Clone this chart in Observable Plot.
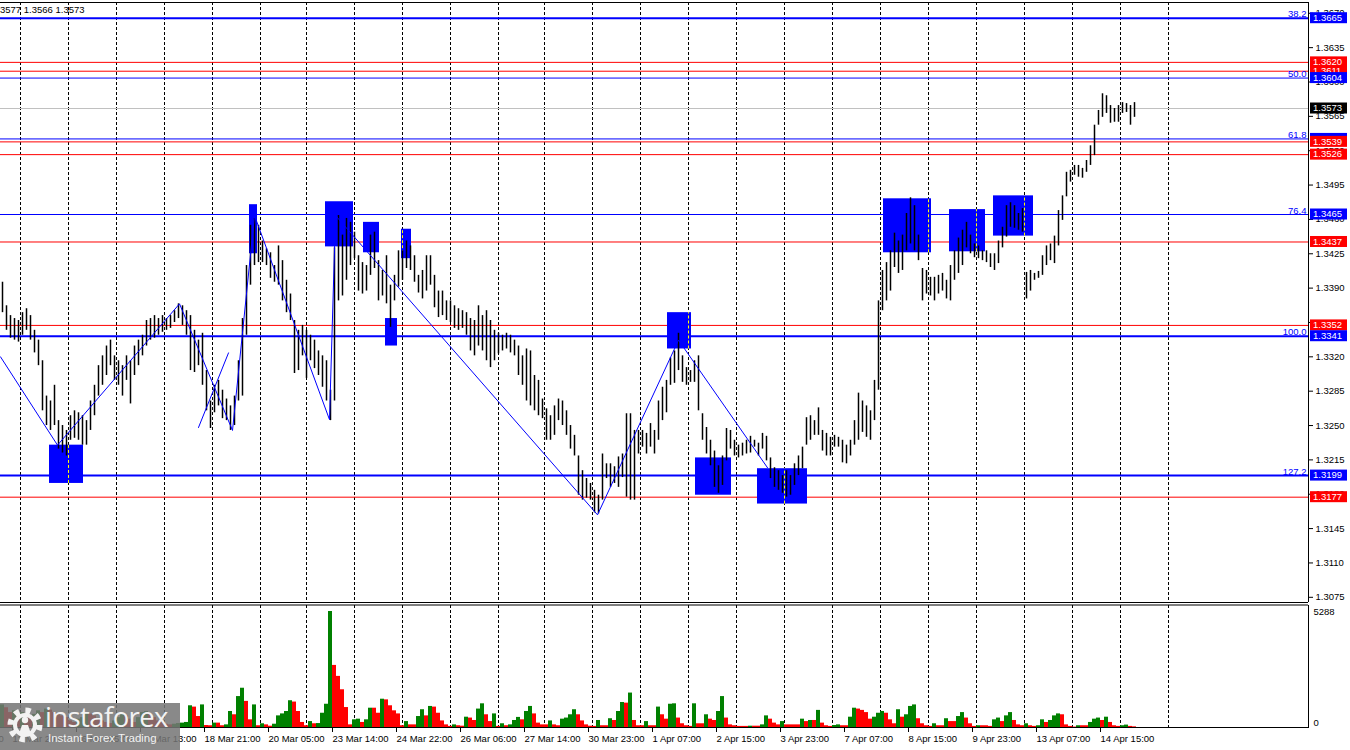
<!DOCTYPE html>
<html><head><meta charset="utf-8">
<script src="https://cdn.jsdelivr.net/npm/d3@7"></script>
<script src="https://cdn.jsdelivr.net/npm/@observablehq/plot@0.6"></script>
<style>
html,body{margin:0;padding:0;background:#fff;width:1350px;height:750px;overflow:hidden}
#wrap{position:relative;width:1350px;height:750px;font-family:"Liberation Sans",Arial,sans-serif}
#charts svg{display:block}
#hdr{position:absolute;left:0;top:4px;font-size:9.5px;line-height:12px;color:#000;z-index:3;white-space:nowrap}
#logo{position:absolute;left:0;top:703px;width:180px;height:47px;background:rgba(118,118,118,0.86);z-index:3;overflow:hidden}
#logo .big{position:absolute;left:45px;top:-5px;font-family:"Open Sans",sans-serif;font-size:27.5px;letter-spacing:-0.6px;color:#f2f2f2}
#logo .small{position:absolute;left:48px;top:29px;font-family:"Liberation Sans",sans-serif;font-size:11.5px;color:#f2f2f2}
#logo svg{position:absolute;left:4px;top:1px}
</style></head>
<body><div id="wrap"><div id="charts"></div>
<div id="hdr"></div>
<div id="logo"><svg width="42" height="42" viewBox="0 0 42 42">
<circle cx="21" cy="21" r="14" fill="none" stroke="#f2f2f2" stroke-width="7" stroke-dasharray="5 5.99"/>
<circle cx="21" cy="21" r="10" fill="none" stroke="#f2f2f2" stroke-width="4"/>
<circle cx="21" cy="16" r="3.2" fill="#f2f2f2"/>
<path d="M15 30 L18 21 L24 21 L27 30 Z" fill="#f2f2f2"/>
</svg><div class="big">instaforex</div><div class="small">Instant Forex Trading</div></div>
</div>
<script>
// ---------- DATA ----------
const headerText = "3577 1.3566 1.3573";

// 2-hour bars (high / low), left to right
const highs = [
1.3396,1.3372,1.3362,1.3359,1.3357,1.3365,1.3369,1.3362,1.3347,1.3337,
1.3316,1.3280,1.3275,1.3291,1.3255,1.3250,1.3245,1.3260,1.3265,1.3263,1.3260,
1.3255,1.3275,1.3291,1.3311,1.3321,1.3331,1.3337,1.3321,1.3316,1.3311,1.3321,1.3316,1.3331,1.3337,1.3342,1.3357,1.3359,1.3362,1.3359,1.3362,1.3359,1.3362,1.3367,1.3374,1.3372,
1.3367,1.3362,1.3347,1.3337,1.3344,1.3306,1.3275,1.3291,1.3296,1.3286,1.3277,1.3270,1.3280,1.3316,1.3359,1.3413,1.3454,1.3461,1.3454,1.3438,1.3430,1.3426,1.3413,1.3433,1.3418,1.3398,
1.3384,1.3357,1.3347,1.3352,1.3347,1.3342,1.3337,1.3326,1.3321,1.3316,1.3286,
1.3431,1.3464,1.3444,1.3461,1.3457,1.3447,
1.3423,1.3416,1.3413,1.3444,1.3447,1.3418,1.3408,1.3423,1.3393,1.3403,1.3428,1.3428,1.3438,1.3433,1.3423,1.3403,1.3408,1.3423,1.3423,1.3403,1.3387,1.3387,1.3377,1.3377,
1.3372,1.3369,1.3367,1.3365,1.3359,1.3357,1.3372,1.3362,1.3367,1.3357,1.3347,1.3344,1.3342,1.3344,1.3342,1.3337,1.3331,1.3321,1.3328,1.3326,1.3301,1.3296,
1.3277,1.3267,1.3260,1.3270,1.3277,1.3275,1.3265,1.3250,1.3240,1.3219,1.3204,1.3196,1.3191,1.3184,1.3179,
1.3221,1.3211,1.3211,1.3208,1.3218,1.3221,1.3262,1.3262,1.3245,1.3245,1.3245,1.3242,1.3252,1.3245,1.3275,1.3289,1.3296,1.3319,1.3326,1.3344,
1.3321,1.3309,1.3306,1.3316,1.3321,1.3262,1.3248,1.3235,1.3224,1.3209,1.3219,1.3247,1.3245,1.3235,1.3230,1.3232,1.3235,1.3239,1.3235,1.3232,1.3242,1.3239,
1.3217,1.3207,1.3204,1.3199,1.3204,1.3199,1.3211,1.3219,1.3228,1.3258,1.3260,1.3255,1.3268,1.3245,1.3242,1.3238,1.3240,1.3238,1.3235,1.3230,1.3235,1.3255,1.3283,1.3275,1.3270,1.3265,1.3296,1.3377,1.3408,1.3416,1.3428,
1.3446,1.3438,1.3444,1.3466,1.3482,1.3474,1.3444,1.3410,1.3408,1.3401,1.3401,1.3403,1.3405,1.3398,1.3413,1.3428,1.3441,1.3449,1.3457,1.3444,1.3435,1.3433,1.3428,1.3428,1.3425,1.3425,1.3438,1.3452,1.3474,1.3477,1.3474,1.3466,1.3471,1.3406,1.3408,1.3405,1.3407,1.3423,1.3433,1.3435,1.3443,1.3469,1.3484,1.3508,1.3510,1.3515,1.3515,1.3512,1.3520,1.3535,1.3556,1.3571,1.3588,1.3586,1.3576,1.3573,1.3576,1.3579,1.3578,1.3576,1.3579
];
const lows = [
1.3365,1.3347,1.3339,1.3337,1.3335,1.3342,1.3347,1.3337,1.3324,1.3311,
1.3265,1.3250,1.3245,1.3250,1.3226,1.3222,1.3219,1.3235,1.3237,1.3235,1.3230,
1.3230,1.3245,1.3260,1.3280,1.3291,1.3301,1.3311,1.3296,1.3291,1.3280,1.3296,1.3272,1.3301,1.3311,1.3321,1.3331,1.3337,1.3339,1.3342,1.3345,1.3347,1.3349,1.3355,1.3359,1.3352,
1.3342,1.3306,1.3304,1.3311,1.3291,1.3265,1.3247,1.3263,1.3270,1.3257,1.3255,1.3245,1.3250,1.3275,1.3280,1.3342,1.3393,1.3413,1.3416,1.3416,1.3413,1.3400,1.3396,1.3393,1.3377,1.3365,
1.3357,1.3303,1.3306,1.3321,1.3298,1.3316,1.3308,1.3301,1.3289,1.3275,1.3255,
1.3275,1.3377,1.3382,1.3398,1.3413,1.3420,
1.3387,1.3384,1.3387,1.3403,1.3410,1.3377,1.3382,1.3374,1.3350,1.3377,1.3391,1.3398,1.3410,1.3408,1.3396,1.3385,1.3379,1.3387,1.3393,1.3370,1.3360,1.3362,1.3357,1.3355,
1.3349,1.3347,1.3349,1.3342,1.3326,1.3321,1.3331,1.3326,1.3316,1.3309,1.3316,1.3323,1.3326,1.3328,1.3324,1.3321,1.3301,1.3291,1.3275,1.3270,1.3265,1.3260,
1.3257,1.3235,1.3235,1.3240,1.3255,1.3250,1.3240,1.3226,1.3219,1.3179,1.3174,1.3176,1.3174,1.3161,1.3160,
1.3174,1.3196,1.3187,1.3191,1.3187,1.3197,1.3177,1.3174,1.3174,1.3221,1.3228,1.3221,1.3228,1.3221,1.3235,1.3255,1.3263,1.3291,1.3293,1.3306,
1.3294,1.3291,1.3294,1.3294,1.3265,1.3235,1.3221,1.3209,1.3187,1.3181,1.3189,1.3214,1.3226,1.3219,1.3217,1.3219,1.3221,1.3222,1.3228,1.3219,1.3226,1.3214,
1.3196,1.3187,1.3184,1.3181,1.3177,1.3179,1.3189,1.3199,1.3206,1.3230,1.3235,1.3240,1.3240,1.3224,1.3219,1.3219,1.3228,1.3228,1.3212,1.3211,1.3219,1.3230,1.3235,1.3243,1.3238,1.3235,1.3255,1.3286,1.3367,1.3377,1.3387,
1.3411,1.3405,1.3408,1.3428,1.3435,1.3428,1.3418,1.3377,1.3384,1.3382,1.3377,1.3384,1.3387,1.3379,1.3377,1.3398,1.3405,1.3413,1.3431,1.3425,1.3421,1.3420,1.3418,1.3416,1.3411,1.3408,1.3415,1.3431,1.3442,1.3452,1.3451,1.3449,1.3447,1.3379,1.3387,1.3398,1.3400,1.3403,1.3413,1.3418,1.3415,1.3433,1.3459,1.3483,1.3498,1.3505,1.3503,1.3502,1.3508,1.3515,1.3525,1.3556,1.3564,1.3568,1.3558,1.3559,1.3559,1.3568,1.3569,1.3556,1.3564
];
const volumes = [
1030,900,680,760,610,680,530,450,600,760,680,840,790,680,610,
530,450,300,230,380,450,680,610,530,380,300,230,180,300,450,610,530,380,230,450,680,730,610,450,300,230,150,120,150,180,
200,230,990,930,500,1030,90,80,200,200,80,120,730,580,1410,1790,1190,350,1030,80,170,120,60,150,530,620,730,1220,1160,730,230,80,270,170,180,650,1060,5288,2830,2330,1720,910,120,350,380,230,350,880,880,650,1290,1260,990,760,620,80,270,120,120,500,810,530,960,930,650,300,120,50,
120,80,60,470,430,320,840,1080,580,270,620,50,170,80,120,320,460,350,730,960,620,200,120,120,300,120,80,380,430,580,810,580,300,120,60,50,320,80,80,400,320,730,1140,1110,1570,320,80,80,270,80,80,930,580,380,1060,1080,430,170,80,50,1080,170,170,580,380,320,730,1410,430,120,80,50,50,50,60,60,60,120,530,380,200,120,270,120,120,120,120,380,270,320,320,780,200,80,50,90,120,80,80,470,880,840,780,680,380,470,650,730,650,350,
170,810,470,580,960,1030,400,170,80,50,170,80,80,400,270,270,500,680,430,170,50,80,80,80,50,350,430,270,530,680,320,120,80,170,80,50,80,350,230,320,530,620,580,120,50,20,80,80,80,230,380,430,320,470,230,80,50,80,110,50,30
];
const volumeMax = 5288;

// price axis ticks
const priceTicks = [1.3075,1.3110,1.3145,1.3180,1.3215,1.3250,1.3285,1.3320,1.3355,1.3390,1.3425,1.3460,1.3495,1.3530,1.3565,1.3600,1.3635,1.3670];

// Fibonacci levels
const fibLabels = ["38.2","50.0","61.8","76.4","100.0","127.2"];
const fibPrices = [1.3665,1.3604,1.3542,1.3465,1.3341,1.3199];
const fibMajor = ["38.2","100.0","127.2"];
// red horizontal levels
const redLevels = [1.3620,1.3611,1.3539,1.3526,1.3437,1.3352,1.3177];
const lastPrice = 1.3573;

// zigzag (time index in hours, price)
const zigzagT = [0,28.5,89.5,116,127,164.5,167.5,298.5,339,383.5];
const zigzagP = [1.3320,1.3230,1.3374,1.3245,1.3464,1.3256,1.3464,1.3159,1.3337,1.3207];
const crossT = [99,114];
const crossP = [1.3248,1.3324];

// blue zones
const boxStart = [24.5,124.5,162.5,181.5,192.5,200.5,333.5,347.5,378.5,441.5,474.5,496.5];
const boxEnd   = [41.5,128.5,176.5,189.5,198.5,205.5,345.5,365.5,403.5,465.5,492.5,516.5];
const boxHigh  = [1.3230,1.3475,1.3478,1.3457,1.3359,1.3450,1.3365,1.3217,1.3206,1.3481,1.3470,1.3484];
const boxLow   = [1.3191,1.3425,1.3432,1.3426,1.3331,1.3420,1.3328,1.3179,1.3170,1.3426,1.3427,1.3443];

// vertical separators and time labels (hour index)
const gridT = [10,34,58,82,106,130,153,177,201,225,249,272,296,320,344,368,392,416,440,464,488,512,536,560,584];
const labelT = [-26,6,38,70,102,134,166,198,230,262,294,326,358,390,422,454,486,518,550];
const labelText = ["11 Mar 12:00","12 Mar 20:00","16 Mar 05:00","17 Mar 13:00","18 Mar 21:00","20 Mar 05:00","23 Mar 14:00","24 Mar 22:00","26 Mar 06:00","27 Mar 14:00","30 Mar 23:00","1 Apr 07:00","2 Apr 15:00","3 Apr 23:00","7 Apr 07:00","8 Apr 15:00","9 Apr 23:00","13 Apr 07:00","14 Apr 15:00"];

// ---------- BUILD ----------
const BLUE = "#0000ff", RED = "#ff0000", GREEN = "#008000", YELLOW = "#ffff00";
const FONT = '"Liberation Sans", Arial, sans-serif';
const xDomain = [0, 654];
const yDomain = [1.30697, 1.36810];

const bars = highs.map((h, i) => ({
  t: 1 + 2 * i, high: h, low: lows[i], vol: volumes[i],
  up: i === 0 || volumes[i] > volumes[i - 1]
}));
const fib = fibLabels.map((l, i) => ({label: l, price: fibPrices[i], major: fibMajor.includes(l)}));
const zig = zigzagT.map((t, i) => ({t, p: zigzagP[i]}));
const cross = crossT.map((t, i) => ({t, p: crossP[i]}));
const boxes = boxStart.map((s, i) => ({t1: s, t2: boxEnd[i], hi: boxHigh[i], lo: boxLow[i]}));
const xLabels = labelT.map((t, i) => ({t, label: labelText[i]}));
// parts of the separators that cross a zone (drawn inverted)
const gridInBoxes = [];
boxes.forEach(b => gridT.forEach(g => { if (g > b.t1 && g < b.t2) gridInBoxes.push({t: g, lo: b.lo, hi: b.hi}); }));

document.getElementById("hdr").textContent = headerText;

const main = Plot.plot({
  width: 1350, height: 604,
  marginLeft: 0, marginRight: 42, marginTop: 2, marginBottom: 2,
  style: {background: "#fff", fontFamily: FONT, fontSize: "9.5px", color: "#000"},
  x: {domain: xDomain, axis: null},
  y: {domain: yDomain},
  marks: [
    Plot.ruleX(gridT, {stroke: "#000", strokeDasharray: "3,2"}),
    Plot.ruleY([lastPrice], {stroke: "#c0c0c0"}),
    Plot.ruleY(redLevels, {stroke: RED}),
    Plot.ruleY(fib.filter(d => !d.major), {y: "price", stroke: BLUE}),
    Plot.ruleY(fib.filter(d => d.major), {y: "price", stroke: BLUE, strokeWidth: 2}),
    Plot.rect(boxes, {x1: "t1", x2: "t2", y1: "lo", y2: "hi", fill: BLUE}),
    Plot.ruleX(gridInBoxes, {x: "t", y1: "lo", y2: "hi", stroke: YELLOW, strokeDasharray: "3,2"}),
    Plot.ruleX(bars, {x: "t", y1: "low", y2: "high", stroke: "#000", strokeWidth: 1.5}),
    Plot.line(zig, {x: "t", y: "p", stroke: BLUE, strokeWidth: 1}),
    Plot.line(cross, {x: "t", y: "p", stroke: BLUE, strokeWidth: 1}),
    Plot.text(fib, {y: "price", text: "label", frameAnchor: "right", textAnchor: "end", lineAnchor: "bottom", dx: -2, dy: -1, fill: BLUE}),
    Plot.axisY(priceTicks, {anchor: "right", tickFormat: d3.format(".4f"), tickSize: 4, tickPadding: 3, label: null}),
    Plot.ruleX([xDomain[1]], {stroke: "#000"}),
    Plot.ruleY(yDomain, {stroke: "#000"})
  ]
});

// level price tags on the right axis
const ys = main.scale("y");
const tags = [
  ...fib.map(d => ({price: d.price, color: BLUE})),
  ...redLevels.map(p => ({price: p, color: RED})),
  {price: lastPrice, color: "#000"}
].sort((a, b) => b.price - a.price);
const msel = d3.select(main);
tags.forEach(tg => {
  const yy = ys.apply(tg.price);
  const g = msel.append("g").attr("text-anchor", "start");
  g.append("rect").attr("x", 1310).attr("y", yy - 5.5).attr("width", 37).attr("height", 11).attr("fill", tg.color);
  g.append("text").attr("x", 1313).attr("y", yy).attr("dy", "0.35em").attr("fill", "#fff").attr("text-anchor", "start")
    .attr("font-size", "9.5px").attr("font-family", FONT).text(d3.format(".4f")(tg.price));
});

const vol = Plot.plot({
  width: 1350, height: 146,
  marginLeft: 0, marginRight: 42, marginTop: 7, marginBottom: 23,
  style: {background: "#fff", fontFamily: FONT, fontSize: "9.5px", color: "#000"},
  x: {domain: xDomain, axis: null},
  y: {domain: [0, volumeMax], axis: null},
  color: {type: "identity"},
  marks: [
    Plot.ruleX(gridT, {stroke: "#000", strokeDasharray: "3,2", insetTop: -6}),
    Plot.rect(bars, {x1: d => d.t - 1, x2: d => d.t + 1, y1: 0, y2: "vol", fill: d => d.up ? GREEN : RED}),
    Plot.ruleY([0], {stroke: "#000"}),
    Plot.text([volumeMax], {y: d => d, text: d => String(d), frameAnchor: "right", textAnchor: "start", dx: 5}),
    Plot.text([0], {y: d => d, text: d => String(d), frameAnchor: "right", textAnchor: "start", dx: 5, dy: -5}),
    Plot.text(xLabels, {x: "t", text: "label", frameAnchor: "bottom", textAnchor: "start", lineAnchor: "middle", dy: 11})
  ]
});
const vsel = d3.select(vol);
const vx = vol.scale("x");
vsel.append("line").attr("x1", 0).attr("x2", 1308).attr("y1", 1).attr("y2", 1).attr("stroke", "#000");
vsel.append("line").attr("x1", 1308.5).attr("x2", 1308.5).attr("y1", 1).attr("y2", 124).attr("stroke", "#000");
xLabels.forEach(d => {
  const xx = Math.round(vx.apply(d.t)) + 0.5;
  vsel.append("line").attr("x1", xx).attr("x2", xx).attr("y1", 124).attr("y2", 128).attr("stroke", "#000");
});

const holder = document.getElementById("charts");
holder.appendChild(main);
holder.appendChild(vol);
</script>
</body></html>
